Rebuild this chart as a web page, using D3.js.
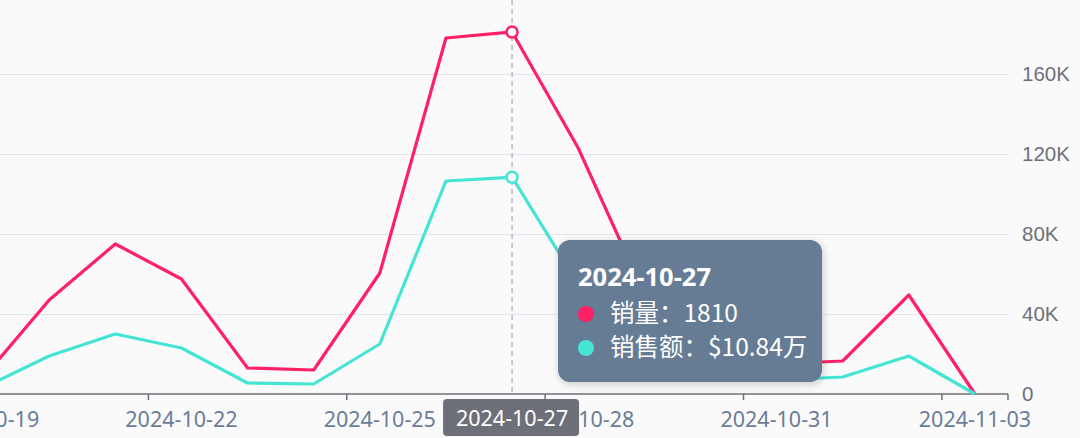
<!DOCTYPE html>
<html>
<head>
<meta charset="utf-8">
<script src="https://cdn.jsdelivr.net/npm/d3@7"></script>
<style>
    html, body { margin: 0; padding: 0; background: #fafafb; }
    #sales-viz { width: 1080px; height: 438px; overflow: hidden; }
</style>
</head>
<body>
<div id="sales-viz"></div>
<script>
// --------------------------------------
// Data
const dates = ["2024-10-19", "2024-10-20", "2024-10-21", "2024-10-22", "2024-10-23", "2024-10-24",
    "2024-10-25", "2024-10-26", "2024-10-27", "2024-10-28", "2024-10-29", "2024-10-30",
    "2024-10-31", "2024-11-01", "2024-11-02", "2024-11-03"];
// 销量 (units), plotted on the hidden left axis 0..2000
const salesQty = [80, 470, 750, 575, 130, 120, 605, 1780, 1810, 1230, 500, 300, 150, 165, 495, 0];
// 销售额 (dollars), plotted on the right axis 0..200K
const salesAmt = [3000, 19000, 30000, 23000, 5500, 5000, 25000, 106500, 108400, 55000, 30000, 15000, 7000, 8500, 19000, 0];
const amtTicks = [0, 40000, 80000, 120000, 160000];
const hoverDate = "2024-10-27";

const paramsSales = {
    svgElementId: "#sales-viz",
}

class chartSales {
    constructor(params) {
        this.width = 1080;
        this.height = 438;
        this.svg = d3.select(params.svgElementId)
            .append("svg")
            .attr("width", this.width)
            .attr("height", this.height)
            .style("font-family", "'Noto Sans', 'Noto Sans CJK SC', sans-serif");

        // The original chart is cropped: the plot starts left of the window
        // and the top of the value range (200K) sits just above it
        const plotLeft = -50, plotRight = 1008, plotTop = -6, plotBottom = 394;

        const x = d3.scaleBand()
            .domain(dates)
            .range([plotLeft, plotRight]);
        const cx = d => x(d) + x.bandwidth() / 2;

        const yAmt = d3.scaleLinear().domain([0, 200000]).range([plotBottom, plotTop]);
        const yQty = d3.scaleLinear().domain([0, 2000]).range([plotBottom, plotTop]);

        // Gridlines + right axis labels
        const yAxis = d3.axisRight(yAmt)
            .tickValues(amtTicks)
            .tickSize(-(plotRight - plotLeft))
            .tickPadding(14)
            .tickFormat(d => d === 0 ? "0" : (d / 1000) + "K");
        const gy = this.svg.append("g")
            .attr("transform", `translate(${plotRight},0)`)
            .call(yAxis);
        gy.select(".domain").remove();
        gy.selectAll(".tick line").attr("stroke", "#e0e5f1").attr("stroke-width", 1.2);
        gy.selectAll(".tick text")
            .attr("fill", "#6e7079")
            .style("font-size", "20.5px");
        gy.selectAll(".tick").filter(d => d === 0).select("line").remove();

        // X axis: ticks on band boundaries, labels every 3rd category
        const labelled = dates.filter((d, i) => i % 3 === 0);
        const gx = this.svg.append("g")
            .attr("transform", `translate(0,${plotBottom})`);
        gx.append("line")
            .attr("x1", plotLeft).attr("x2", plotRight)
            .attr("stroke", "#6e7079").attr("stroke-width", 1.5);
        gx.selectAll("line.tk")
            .data(labelled)
            .join("line")
            .attr("class", "tk")
            .attr("x1", d => x(d)).attr("x2", d => x(d))
            .attr("y1", 0).attr("y2", 6)
            .attr("stroke", "#6e7079").attr("stroke-width", 1.5);
        gx.append("line")
            .attr("x1", plotRight).attr("x2", plotRight)
            .attr("y1", 0).attr("y2", 6)
            .attr("stroke", "#6e7079").attr("stroke-width", 1.5);
        gx.selectAll("text")
            .data(labelled)
            .join("text")
            .attr("x", d => cx(d))
            .attr("y", 33)
            .attr("text-anchor", "middle")
            .attr("fill", "#6a7d98")
            .style("font-size", "21.5px")
            .text(d => d);

        // Axis pointer (dashed line)
        this.svg.append("line")
            .attr("x1", cx(hoverDate)).attr("x2", cx(hoverDate))
            .attr("y1", 0).attr("y2", plotBottom)
            .attr("stroke", "#b6bac6")
            .attr("stroke-width", 1.5)
            .attr("stroke-dasharray", "5,4");

        // Lines
        const series = [
            { values: salesQty, scale: yQty, color: "#ff2165" },
            { values: salesAmt, scale: yAmt, color: "#44e5d4" },
        ];
        series.forEach(s => {
            const line = d3.line()
                .x((d, i) => cx(dates[i]))
                .y(d => s.scale(d));
            this.svg.append("path")
                .datum(s.values)
                .attr("fill", "none")
                .attr("stroke", s.color)
                .attr("stroke-width", 3.2)
                .attr("stroke-linejoin", "round")
                .attr("d", line);
        });
        // Hover markers
        const hi = dates.indexOf(hoverDate);
        series.forEach(s => {
            this.svg.append("circle")
                .attr("cx", cx(hoverDate))
                .attr("cy", s.scale(s.values[hi]))
                .attr("r", 5.5)
                .attr("fill", "#fff")
                .attr("stroke", s.color)
                .attr("stroke-width", 2.5);
        });

        // Highlighted axis label
        const lab = this.svg.append("g")
            .attr("transform", `translate(${cx(hoverDate)},${plotBottom})`);
        lab.append("rect")
            .attr("x", -69).attr("y", 5)
            .attr("width", 136).attr("height", 37)
            .attr("rx", 4)
            .attr("fill", "#6e7079");
        lab.append("text")
            .attr("y", 32)
            .attr("text-anchor", "middle")
            .attr("fill", "#fff")
            .style("font-size", "21.5px")
            .text(hoverDate);

        // --------------------------------------
        // Tooltip
        const defs = this.svg.append("defs");
        const f = defs.append("filter").attr("id", "shadow")
            .attr("x", "-20%").attr("y", "-20%").attr("width", "140%").attr("height", "140%");
        f.append("feDropShadow")
            .attr("dx", 1).attr("dy", 2).attr("stdDeviation", 4)
            .attr("flood-color", "#000").attr("flood-opacity", 0.2);

        const tip = this.svg.append("g").attr("transform", "translate(558,240)");
        tip.append("rect")
            .attr("width", 264).attr("height", 142)
            .attr("rx", 12)
            .attr("fill", "#667b95")
            .attr("filter", "url(#shadow)");
        tip.append("text")
            .attr("x", 20).attr("y", 46)
            .attr("fill", "#fff")
            .style("font-size", "25.5px")
            .style("font-weight", "bold")
            .text(hoverDate);
        const rows = [
            { label: "销量：" + salesQty[hi], color: series[0].color },
            { label: "销售额：$" + (salesAmt[hi] / 10000).toFixed(2) + "万", color: series[1].color },
        ];
        rows.forEach((r, i) => {
            tip.append("circle")
                .attr("cx", 28).attr("cy", 74 + i * 34)
                .attr("r", 8)
                .attr("fill", r.color);
            tip.append("text")
                .attr("x", 52).attr("y", 82 + i * 34)
                .attr("fill", "#fff")
                .style("font-size", "24.5px")
                .style("font-family", "'Noto Sans CJK SC', 'Noto Sans', sans-serif")
                .text(r.label);
        });
    }
}

function whenDocumentLoaded(action) {
    if (document.readyState === "loading") {
        document.addEventListener("DOMContentLoaded", action);
    } else {
        action();
    }
}
whenDocumentLoaded(() => {
    plot_object = new chartSales(paramsSales);
});
</script>
</body>
</html>
